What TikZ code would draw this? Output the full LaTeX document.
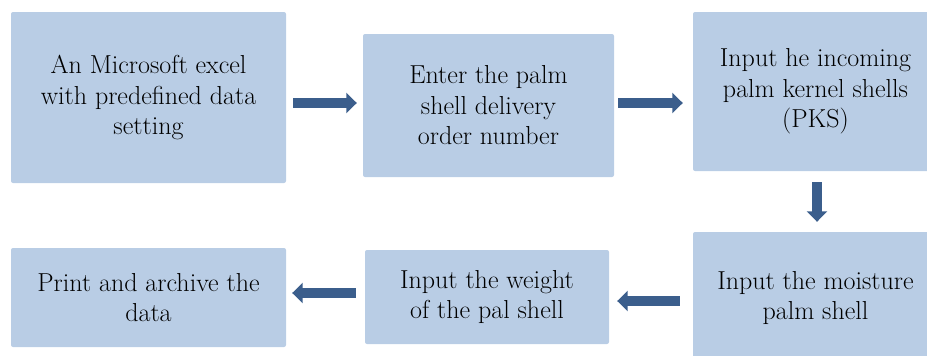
\documentclass[tikz,border=0pt]{standalone}
\usepackage{fontspec}
\usetikzlibrary{arrows.meta}
\definecolor{boxfill}{HTML}{B9CDE5}
\definecolor{arrowblue}{HTML}{3B5E8C}
\begin{document}
\begin{tikzpicture}[x=1pt,y=-1pt,
  stepbox/.style={rectangle, rounded corners=2pt, fill=boxfill, draw=none,
    align=center, inner sep=0pt, font=\rmfamily\fontsize{26}{30.5}\selectfont},
  flow/.style={draw=arrowblue, line width=10pt,
    -{Triangle[length=10.5pt,width=20pt]}, arrowblue}]
  \useasboundingbox (0,0) rectangle (927,356);
  \clip (0,0) rectangle (927,356);

  % process steps
  \node[stepbox, minimum width=275pt, minimum height=171pt] (b1) at (148.5,97.5)
    {An Microsoft excel\\with predefined data\\setting};
  \node[stepbox, minimum width=251pt, minimum height=143pt] (b2) at (488.5,105.5)
    {Enter the palm\\shell delivery\\order number};
  \node[stepbox, minimum width=245pt, minimum height=159pt] (b3) at (815.5,91.5)
    {Input he incoming\\palm kernel shells\\(PKS)};
  \node[stepbox, minimum width=245pt, minimum height=132pt] (b4) at (815.5,298)
    {Input the moisture\\palm shell};
  \node[stepbox, minimum width=244pt, minimum height=94pt] (b5) at (487,297)
    {Input the weight\\of the pal shell};
  \node[stepbox, minimum width=275pt, minimum height=99pt] (b6) at (148.5,297.5)
    {Print and archive the\\data};

  % block arrows between the steps
  \draw[flow, shorten <=7pt, shorten >=6pt]
    ([yshift=-5.5pt]b1.east) -- ([yshift=2.5pt]b2.west);
  \draw[flow, shorten <=4pt, shorten >=10pt]
    ([yshift=2.5pt]b2.east) -- ([yshift=-11.5pt]b3.west);
  \draw[flow, shorten <=11pt, shorten >=10pt]
    ([xshift=1.5pt]b3.south) -- ([xshift=1.5pt]b4.north);
  \draw[flow, shorten <=13pt, shorten >=8pt]
    ([yshift=-3pt]b4.west) -- ([yshift=-4pt]b5.east);
  \draw[flow, shorten <=9pt, shorten >=6pt]
    ([yshift=4pt]b5.west) -- ([yshift=4.5pt]b6.east);
\end{tikzpicture}
\end{document}
